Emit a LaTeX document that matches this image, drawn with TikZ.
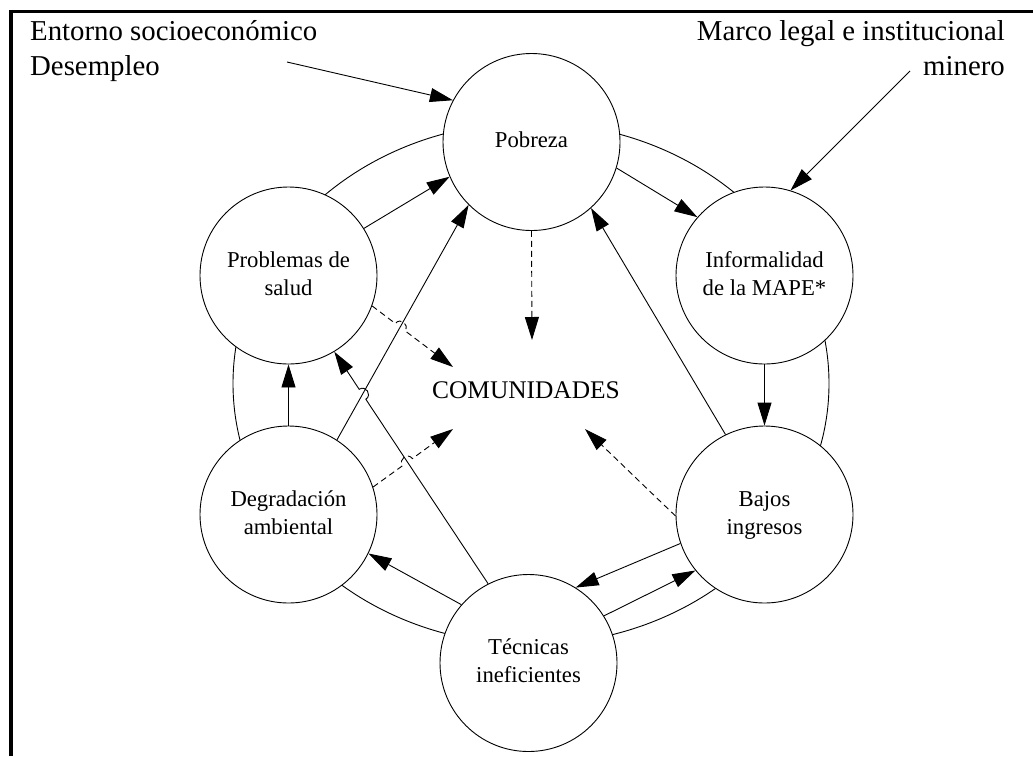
\documentclass[tikz,border=0pt]{standalone}
\usepackage{fontspec}
\setmainfont{Liberation Serif}
\usetikzlibrary{arrows.meta,calc}
\begin{document}
\begin{tikzpicture}[x=1pt,y=-1pt,
  circ/.style={circle,draw,line width=0.9pt,fill=white,minimum size=177pt,inner sep=0pt,align=center,font=\fontsize{22.7}{28}\selectfont},
  arr/.style={line width=0.9pt,-{Triangle[length=23pt,width=14pt]}},
  dsh/.style={arr,dash pattern=on 6pt off 4pt},
  big/.style={font=\fontsize{28.8}{35}\selectfont,inner sep=0pt},
  hop/.style={out=90,in=90,relative,looseness=1.7}]
\useasboundingbox (0,0) rectangle (1033,756);
\draw[line width=3.6pt] (10.8,756) -- (10.8,11.5) -- (1033,11.5);
\draw[line width=0.9pt] (531,383.5) ellipse [x radius=298, y radius=261];
% nodes
\node[circ] (pob) at (531.5,142) {Pobreza\strut};
\node[circ] (inf) at (764.5,275.5) {Informalidad\strut\\de la MAPE*\strut};
\node[circ] (baj) at (764.5,514.5) {Bajos\strut\\ingresos\strut};
\node[circ] (tec) at (528.5,663) {Técnicas\strut\\ineficientes\strut};
\node[circ] (deg) at (288.5,514.5) {Degradación\strut\\ambiental\strut};
\node[circ] (pro) at (288.5,275.5) {Problemas de\strut\\salud\strut};
\node[font=\fontsize{25.4}{30}\selectfont,inner sep=0pt,anchor=base] (com) at (526,398) {COMUNIDADES};
\node[big,anchor=base west] (ent) at (30,40) {Entorno socioeconómico};
\node[big,anchor=base west] (des) at (30,75) {Desempleo};
\node[big,anchor=base east] (mar) at (1005,40) {Marco legal e institucional};
\node[big,anchor=base east] (min) at (1005,75) {minero};
% free ends
\coordinate (entS) at (287,62);
\coordinate (marS) at (910,71);
\coordinate (cPob) at (532,340);
\coordinate (cPro) at (453,367);
\coordinate (cDeg) at (453,429);
\coordinate (cBaj) at (585,429);
% anchor points used for crossings
\coordinate (dpS) at (deg.57);
\coordinate (dpT) at (pob.225.7);
\coordinate (tpS) at (tec.117.1);
\coordinate (tpT) at (pro.-59.7);
\coordinate (pcS) at (pro.-20.4);
\coordinate (dcS) at (deg.18.6);
\coordinate (X1) at (intersection of pcS--cPro and dpS--dpT);
\coordinate (X2) at (intersection of tpS--tpT and dpS--dpT);
\coordinate (X3) at (intersection of dcS--cDeg and tpS--tpT);
% solid arrows
\draw[arr] (entS) -- (pob.152);
\draw[arr] (marS) -- (inf.73);
\draw[arr] (pob.-17) -- (inf.139.5);
\draw[arr] (pro.32.5) -- (pob.203.3);
\draw[arr] (dpS) -- (dpT);
\draw[arr] (tpS) -- ($(X2)!6pt!(tpS)$) to[out=-90,in=-90,relative,looseness=1.7] ($(X2)!6pt!(tpT)$) -- (tpT);
\draw[arr] (deg.90) -- (pro.270);
\draw[arr] (tec.139.7) -- (deg.-26.4);
\draw[arr] (baj.199.2) -- (tec.58.7);
\draw[arr] (tec.32.1) -- (baj.219.5);
\draw[arr] (inf.270) -- (baj.90);
\draw[arr] (baj.116.4) -- (pob.-48.4);
% dashed arrows
\draw[dsh] (pob.270) -- (cPob);
\draw[dsh] (pcS) -- ($(X1)!6pt!(pcS)$) to[hop] ($(X1)!6pt!(cPro)$) -- (cPro);
\draw[dsh] (dcS) -- ($(X3)!6pt!(dcS)$) to[hop] ($(X3)!6pt!(cDeg)$) -- (cDeg);
\draw[dsh] (baj.181) -- (cBaj);
\end{tikzpicture}
\end{document}
